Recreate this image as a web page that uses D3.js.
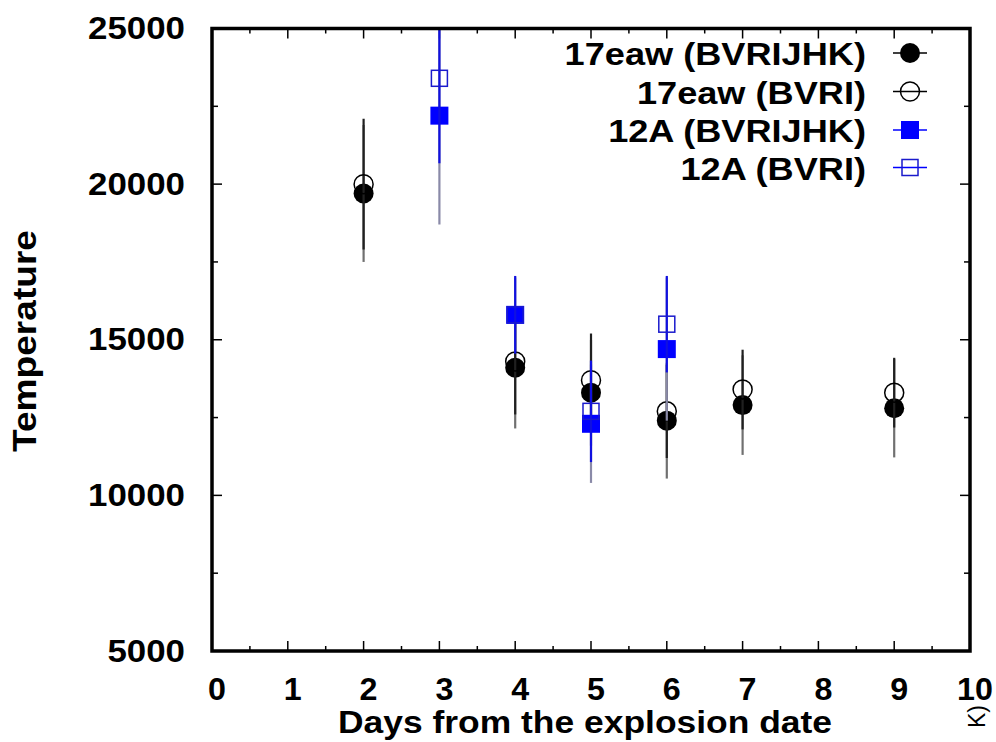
<!DOCTYPE html>
<html>
<head>
<meta charset="utf-8">
<script src="https://cdn.jsdelivr.net/npm/d3@7"></script>
<style>
  html, body { margin: 0; padding: 0; background: #fff; }
  text { font-family: "Liberation Sans", Arial, Helvetica, sans-serif; }
</style>
</head>
<body>
<svg id="chart" width="996" height="742"></svg>
<script>
// ---- data ----
const days17 = [2, 4, 5, 6, 7, 9];
const temp17All = [19700, 14100, 13300, 12400, 12900, 12800];
const err17All = [2200, 1950, 1700, 1860, 1600, 1580];
const temp17BVRI = [20000, 14300, 13700, 12700, 13400, 13300];
const err17BVRI = [2100, 1700, 1500, 1500, 1280, 1120];

const days12 = [3, 4, 5, 6];
const temp12All = [22200, 15800, 12300, 14700];
const err12All = [3500, 1200, 1900, 2300];
const temp12BVRI = [23400, 15800, 12700, 15500];
const err12BVRI = [2730, 1250, 1630, 1550];

const seriesNames = ["17eaw (BVRIJHK)", "17eaw (BVRI)", "12A (BVRIJHK)", "12A (BVRI)"];
const xTicks = [0, 1, 2, 3, 4, 5, 6, 7, 8, 9, 10];
const yTicks = [5000, 10000, 15000, 20000, 25000];
const xLabel = "Days from the explosion date";
const yLabel = "Temperature";

// ---- layout ----
const svg = d3.select("#chart");
const L = 212, R = 970, T = 28.5, B = 651;
const x = d3.scaleLinear().domain([0, 10]).range([L, R]);
const y = d3.scaleLinear().domain([5000, 25000]).range([B, T]);

function stretch(sel, factor) {
  sel.each(function () {
    const w = this.getComputedTextLength();
    d3.select(this).attr("textLength", w * factor).attr("lengthAdjust", "spacingAndGlyphs");
  });
}

// clip
svg.append("defs").append("clipPath").attr("id", "plotclip")
  .append("rect").attr("x", L).attr("y", T).attr("width", R - L).attr("height", B - T);

// ---- axes (ticks inward, mirrored) ----
const minorX = d3.range(0.5, 10, 1);
const minorY = [7500, 12500, 17500, 22500];
const tickG = svg.append("g").attr("stroke", "#000").attr("stroke-width", 1.5);
xTicks.forEach(v => {
  tickG.append("line").attr("x1", x(v)).attr("x2", x(v)).attr("y1", B).attr("y2", B - 10);
  tickG.append("line").attr("x1", x(v)).attr("x2", x(v)).attr("y1", T).attr("y2", T + 10);
});
minorX.forEach(v => {
  tickG.append("line").attr("x1", x(v)).attr("x2", x(v)).attr("y1", B).attr("y2", B - 5);
  tickG.append("line").attr("x1", x(v)).attr("x2", x(v)).attr("y1", T).attr("y2", T + 5);
});
yTicks.forEach(v => {
  tickG.append("line").attr("x1", L).attr("x2", L + 10).attr("y1", y(v)).attr("y2", y(v));
  tickG.append("line").attr("x1", R).attr("x2", R - 10).attr("y1", y(v)).attr("y2", y(v));
});
minorY.forEach(v => {
  tickG.append("line").attr("x1", L).attr("x2", L + 6).attr("y1", y(v)).attr("y2", y(v));
  tickG.append("line").attr("x1", R).attr("x2", R - 6).attr("y1", y(v)).attr("y2", y(v));
});

// tick labels
const xl = svg.append("g").selectAll("text").data(xTicks).join("text")
  .attr("x", d => x(d) + 5).attr("y", 700)
  .attr("text-anchor", "middle").attr("font-size", 31).attr("font-weight", "bold")
  .text(d => d);
stretch(xl, 1.04);
const yl = svg.append("g").selectAll("text").data(yTicks).join("text")
  .attr("x", 185).attr("y", d => y(d) + 10.5)
  .attr("text-anchor", "end").attr("font-size", 32).attr("font-weight", "bold")
  .text(d => d);
stretch(yl, 1.09);

// axis titles
const xt = svg.append("text").attr("x", 585).attr("y", 733)
  .attr("text-anchor", "middle").attr("font-size", 32).attr("font-weight", "bold").text(xLabel);
xt.attr("textLength", 494).attr("lengthAdjust", "spacingAndGlyphs");
const yt = svg.append("text").attr("transform", "translate(36,341) rotate(-90)")
  .attr("text-anchor", "middle").attr("font-size", 33).attr("font-weight", "bold").text(yLabel);
yt.attr("textLength", 222).attr("lengthAdjust", "spacingAndGlyphs");

svg.append("text").attr("transform", "translate(985,728) rotate(-90)")
  .attr("text-anchor", "start").attr("font-size", 23).text("K)");

// ---- data series ----
const plot = svg.append("g").attr("clip-path", "url(#plotclip)");

const series = [
  { name: seriesNames[0], xs: days17, ys: temp17All, es: err17All, bar: "#707070", shape: "circle", fill: "#000", stroke: "#000" },
  { name: seriesNames[1], xs: days17, ys: temp17BVRI, es: err17BVRI, bar: "#202020", shape: "circle", fill: "none", stroke: "#000" },
  { name: seriesNames[2], xs: days12, ys: temp12All, es: err12All, bar: "#8a8aa8", shape: "square", fill: "#0000ff", stroke: "#0000ff" },
  { name: seriesNames[3], xs: days12, ys: temp12BVRI, es: err12BVRI, bar: "#1010e0", shape: "square", fill: "none", stroke: "#1a1acc" }
];

function drawMarker(g, s, cx, cy) {
  if (s.shape === "circle") {
    g.append("circle").attr("cx", cx).attr("cy", cy).attr("r", s.fill === "none" ? 9.5 : 10)
      .attr("fill", s.fill).attr("stroke", s.stroke).attr("stroke-width", s.fill === "none" ? 1.5 : 0);
  } else {
    const h = s.fill === "none" ? 8 : 9;
    g.append("rect").attr("x", cx - h).attr("y", cy - h).attr("width", 2 * h).attr("height", 2 * h)
      .attr("fill", s.fill).attr("stroke", s.stroke).attr("stroke-width", s.fill === "none" ? 1.5 : 0);
  }
}

series.forEach(s => {
  const pts = s.xs.map((d, i) => ({ d, t: s.ys[i], e: s.es[i] }));
  plot.append("g").selectAll("line").data(pts).join("line")
    .attr("x1", p => x(p.d)).attr("x2", p => x(p.d))
    .attr("y1", p => y(p.t - p.e)).attr("y2", p => y(p.t + p.e))
    .attr("stroke", s.bar).attr("stroke-width", 2.2);
  const mg = plot.append("g");
  pts.forEach(p => drawMarker(mg, s, x(p.d), y(p.t)));
});

// ---- frame ----
svg.append("rect").attr("x", L).attr("y", T).attr("width", R - L).attr("height", B - T)
  .attr("fill", "none").attr("stroke", "#000").attr("stroke-width", 3.5);

// ---- legend ----
const legRows = [53, 91.5, 130, 167.5];
const lg = svg.append("g");
series.forEach((s, i) => {
  const cy = legRows[i];
  const t = lg.append("text").attr("x", 866).attr("y", cy + 12)
    .attr("text-anchor", "end").attr("font-size", 32).attr("font-weight", "bold").text(s.name);
  stretch(t, 1.13);
  lg.append("line").attr("x1", 893).attr("x2", 927).attr("y1", cy).attr("y2", cy)
    .attr("stroke", i < 2 ? "#000" : "#0000ff").attr("stroke-width", 1.5);
  drawMarker(lg, s, 910, cy);
});
</script>
</body>
</html>
